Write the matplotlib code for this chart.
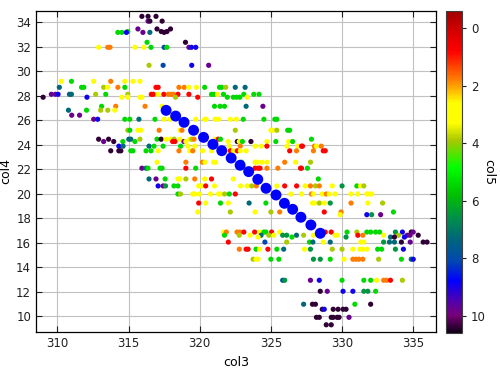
import matplotlib
matplotlib.use("Agg")
import matplotlib.pyplot as plt
from matplotlib.colors import LinearSegmentedColormap

# rows of the scatter: one col4 value per row, col3 / col5 values per point
row_col4 = [34.49, 34.10, 33.46, 33.25, 33.18, 32.37, 31.96, 30.49, 29.18, 28.69,
            28.12, 27.88, 27.14, 26.82, 26.41, 26.08, 25.18, 24.45, 24.26, 23.88,
            23.50, 22.57, 22.08, 21.20, 20.63, 19.97, 19.23, 18.50, 18.28, 16.86,
            16.60, 16.45, 16.04, 15.46, 14.64, 12.92, 12.02, 10.96, 10.55, 9.89,
            9.28]

row_col3 = [
    [315.94, 316.37, 316.93],
    [316.37, 316.50, 317.36],
    [315.66, 317.00, 317.95],
    [314.95, 317.30, 317.70],
    [314.25, 314.53, 314.85, 316.01, 316.50, 317.50],
    [316.30, 319.00],
    [312.90, 313.54, 313.70, 315.45, 316.08, 316.58, 317.50, 317.69, 319.24, 319.42, 319.72],
    [316.44, 317.43, 319.44, 320.63],
    [310.28, 310.99, 312.55, 313.75, 314.74, 315.31, 315.80],
    [310.14, 311.70, 311.86, 313.25, 313.54, 314.25, 314.74, 316.93, 317.08, 318.54,
     318.91, 319.24, 319.77, 320.35, 321.39, 321.55, 321.83, 322.50, 323.19],
    [309.58, 309.86, 310.05, 310.85, 310.99, 312.69, 313.40, 314.95, 316.60, 316.74,
     317.08, 317.48, 317.80, 318.00, 318.15, 318.47, 319.24, 320.83, 321.00, 321.25,
     321.67, 323.10, 323.80, 324.17],
    [309.00, 312.08, 314.53, 314.95, 315.80, 315.94, 318.30, 319.86, 321.94, 322.36,
     322.59, 322.82, 323.33],
    [313.11, 314.10, 316.16, 317.36, 321.04, 321.43, 321.74, 323.26, 324.44],
    [310.78, 312.05, 313.04, 313.54, 314.03],
    [311.01, 311.56],
    [312.55, 312.83, 314.74, 315.09, 315.73, 316.86, 317.50, 317.92, 319.72, 320.35,
     320.45, 321.09, 321.32, 322.15, 322.57, 323.06, 324.51, 325.28, 325.42],
    [314.95, 315.09, 315.66, 315.87, 317.15, 318.61, 318.75, 322.50, 325.00, 325.14,
     325.42, 326.18, 326.32],
    [312.90, 313.60, 315.02, 315.16, 315.80, 317.00, 317.29, 317.64, 317.95, 318.20,
     318.60, 319.30, 319.44, 319.60, 321.11, 321.30, 321.46, 327.85],
    [313.25, 313.96, 314.60, 315.45, 318.10, 318.26, 318.89, 319.03, 322.00, 322.64,
     322.78, 323.00, 323.60, 324.72, 325.35, 326.25, 326.53],
    [314.32, 314.62, 316.44, 316.79, 317.43, 318.66, 319.17, 319.65, 322.08, 322.85,
     323.89, 324.31, 324.72, 326.13, 326.90, 327.15, 327.22, 328.06, 328.20, 328.54],
    [313.75, 314.32, 314.46, 315.16, 315.31, 316.23, 316.58, 317.08, 318.54, 319.30,
     319.51, 320.20, 320.83, 322.15, 322.36, 322.64, 322.85, 323.26, 326.32, 326.80,
     327.99, 328.68, 328.82],
    [317.00, 319.03, 320.20, 320.37, 320.97, 321.11, 322.95, 323.89, 324.03, 324.38,
     324.72, 325.97, 326.74, 327.78],
    [315.94, 316.23, 316.37, 317.22, 317.36, 319.03, 319.72, 323.89, 324.10, 324.24,
     324.72, 325.49, 327.08, 327.15, 327.57],
    [316.44, 316.93, 317.57, 318.47, 318.61, 319.03, 319.65, 320.35, 320.83, 322.36, 328.33],
    [317.08, 317.43, 317.60, 318.19, 318.47, 319.93, 320.14, 320.42, 321.04, 322.87,
     323.33, 323.66, 323.98, 325.42, 325.97, 326.81, 327.40, 327.78, 328.13, 328.40,
     329.31, 330.00, 331.04, 331.30, 331.53],
    [318.47, 318.65, 319.51, 319.65, 320.00, 320.76, 321.32, 321.46, 321.75, 322.08,
     322.50, 326.41, 327.15, 327.85, 327.99, 328.61, 328.89, 329.10, 329.51, 330.63,
     331.11, 331.74, 331.94, 332.08],
    [319.93, 320.42, 321.46, 322.01, 323.47, 324.65, 327.92, 328.06, 328.40, 328.75,
     329.17, 330.63, 331.81, 332.85],
    [319.86, 322.15, 323.89, 325.00, 325.62, 328.75, 329.93, 333.61],
    [329.86, 331.74, 332.08, 332.71],
    [321.67, 321.87, 322.62, 322.82, 323.10, 323.86, 324.20, 324.51, 324.65, 325.05,
     325.62, 328.82, 329.24, 330.35, 331.04, 331.74, 332.01, 332.36, 332.64, 333.75,
     334.24, 334.86, 335.00],
    [321.74, 322.78, 323.54, 324.31, 324.86, 325.21, 325.83, 326.11, 326.80, 327.30,
     327.99, 329.51, 329.65, 331.11, 331.46, 332.92, 333.96, 334.58, 334.78, 335.35],
    [324.10, 326.48, 330.28, 333.40, 333.68, 334.38],
    [322.01, 324.58, 326.11, 327.71, 327.95, 328.68, 329.17, 331.32, 331.53, 332.92,
     333.33, 333.68, 334.17, 334.79, 335.70, 335.97],
    [322.78, 323.26, 323.40, 323.96, 324.20, 324.79, 325.42, 325.90, 327.36, 327.78,
     329.31, 330.00, 330.76, 331.25, 331.46, 331.74, 332.50, 332.78, 333.75, 334.31],
    [323.75, 323.96, 324.10, 325.00, 325.56, 327.99, 328.47, 329.17, 330.14, 330.76,
     330.97, 331.18, 331.46, 332.57, 334.17, 334.86, 335.00],
    [325.83, 325.97, 327.78, 328.40, 330.00, 331.53, 332.01, 332.43, 332.92, 333.13,
     333.40, 334.24],
    [328.47, 328.96, 330.07, 330.76, 331.53, 331.81, 332.36],
    [327.30, 327.92, 328.13, 330.90, 332.01],
    [328.61, 328.75, 329.38, 329.72, 330.07, 330.28],
    [328.20, 328.40, 329.24, 329.38, 329.65, 329.79, 330.49],
    [328.89, 329.24],
]

row_col5 = [
    [10.4, 10.4, 10.4],
    [9.8, 10.4, 10.4],
    [9.8, 10.4, 10.4],
    [5.4, 10.4, 10.4],
    [5.4, 5.4, 8.9, 9.8, 7.3, 10.4],
    [5.4, 10.4],
    [3.0, 1.8, 1.8, 3.0, 3.0, 5.4, 8.1, 5.4, 9.8, 8.9, 8.9],
    [3.9, 8.1, 8.9, 9.8],
    [3.0, 5.4, 3.0, 1.8, 3.0, 3.0, 3.0],
    [7.3, 5.4, 5.4, 3.9, 3.0, 1.8, 5.4, 0.8, 0.8, 1.8,
     1.8, 3.0, 3.0, 5.4, 5.4, 5.4, 3.9, 7.3, 7.3],
    [9.8, 9.8, 8.9, 7.3, 7.3, 3.9, 5.4, 3.9, 0.8, 0.8,
     3.0, 0.8, 1.8, 1.8, 1.8, 0.8, 0.8, 5.4, 5.4, 3.0,
     5.4, 5.4, 5.4, 5.4],
    [10.4, 8.9, 3.0, 3.0, 3.0, 3.0, 3.9, 0.8, 5.4, 5.4,
     5.4, 5.4, 3.0],
    [5.4, 1.8, 1.8, 3.0, 5.4, 5.4, 5.4, 7.3, 9.8],
    [7.3, 5.4, 3.9, 3.9, 3.0],
    [9.8, 9.8],
    [9.8, 8.9, 5.4, 5.4, 7.3, 5.4, 3.0, 3.0, 3.0, 3.0,
     3.0, 3.0, 3.0, 3.0, 3.0, 5.4, 5.4, 5.4, 5.4],
    [3.9, 5.4, 3.0, 3.0, 1.8, 3.0, 1.8, 3.9, 3.0, 3.0,
     3.9, 5.4, 5.4],
    [10.4, 10.4, 7.3, 7.3, 3.9, 5.4, 10.4, 3.0, 3.0, 3.9,
     3.0, 3.0, 3.9, 1.8, 3.0, 0.8, 5.4, 5.4],
    [9.8, 10.4, 5.4, 5.4, 0.8, 0.8, 9.8, 3.0, 3.0, 10.4,
     3.0, 5.4, 10.4, 3.0, 5.4, 3.0, 5.4],
    [8.9, 7.3, 7.3, 5.4, 5.4, 5.4, 3.0, 3.0, 3.0, 1.8,
     3.0, 3.0, 0.8, 3.0, 3.0, 0.8, 0.8, 1.8, 3.0, 1.8],
    [10.4, 10.4, 10.4, 5.4, 5.4, 5.4, 5.4, 3.0, 1.8, 3.0,
     1.8, 3.0, 3.0, 0.8, 3.0, 0.8, 3.0, 3.0, 0.8, 1.8,
     1.8, 0.8, 0.8],
    [3.0, 1.8, 1.8, 3.0, 3.0, 3.0, 5.4, 3.0, 3.0, 3.0,
     3.0, 1.8, 3.0, 3.9],
    [9.8, 7.3, 5.4, 5.4, 5.4, 0.8, 5.4, 0.8, 0.8, 0.8,
     1.8, 1.8, 0.8, 0.8, 5.4],
    [7.3, 9.8, 5.4, 3.0, 3.0, 3.9, 1.8, 3.0, 0.8, 3.0, 5.4],
    [8.9, 9.8, 6.5, 5.4, 5.4, 3.0, 3.0, 0.8, 3.0, 3.0,
     3.0, 3.9, 1.8, 3.0, 0.8, 0.8, 3.0, 1.8, 3.9, 1.8,
     3.0, 6.5, 5.4, 3.0, 3.9],
    [5.4, 3.9, 3.0, 3.0, 3.0, 3.0, 3.0, 3.0, 3.9, 5.4,
     0.8, 3.0, 3.0, 1.8, 3.0, 3.0, 1.8, 3.0, 3.0, 3.0,
     3.0, 3.0, 3.0, 3.0],
    [0.8, 3.0, 5.4, 3.0, 7.3, 5.4, 3.0, 3.0, 3.9, 3.0,
     6.5, 1.8, 3.0, 3.9],
    [3.0, 3.9, 3.0, 3.9, 1.8, 0.8, 1.8, 5.4],
    [3.0, 8.9, 6.5, 9.8],
    [3.0, 1.8, 1.8, 1.8, 0.8, 0.8, 3.0, 5.4, 5.4, 0.8,
     3.0, 0.8, 0.8, 5.4, 3.9, 5.4, 5.4, 5.4, 5.4, 6.5,
     8.9, 10.4, 9.8],
    [5.4, 3.9, 3.0, 7.3, 3.9, 3.0, 6.5, 6.5, 7.3, 3.9,
     3.0, 3.0, 3.0, 0.8, 1.8, 3.0, 3.9, 9.8, 9.8, 10.4],
    [3.0, 5.4, 6.5, 7.3, 10.4, 8.9],
    [0.8, 8.1, 3.9, 5.4, 7.3, 3.0, 7.3, 3.0, 3.0, 6.5,
     7.3, 7.3, 10.4, 9.8, 10.4, 10.4],
    [1.8, 0.8, 0.8, 5.4, 3.0, 0.8, 5.4, 7.3, 3.0, 6.5,
     3.9, 3.9, 3.0, 3.0, 3.0, 3.0, 5.4, 5.4, 6.5, 8.9],
    [3.9, 3.0, 3.0, 5.4, 5.4, 6.5, 6.5, 5.4, 3.0, 1.8,
     1.8, 1.8, 1.8, 3.9, 5.4, 7.3, 8.9],
    [8.1, 6.5, 9.8, 8.9, 5.4, 5.4, 5.4, 3.0, 1.8, 1.8,
     0.8, 3.9],
    [10.4, 9.8, 8.9, 8.9, 6.5, 6.5, 5.4],
    [7.3, 10.4, 10.4, 5.4, 10.4],
    [10.4, 8.9, 10.4, 10.4, 10.4, 10.4],
    [10.4, 10.4, 10.4, 10.4, 10.4, 10.4, 9.8],
    [10.4, 10.4],
]

# big blue dots along the diagonal
big_col3 = [317.64, 318.31, 318.90, 319.57, 320.27, 320.93, 321.55, 322.21, 322.84,
            323.44, 324.08, 324.66, 325.36, 325.95, 326.53, 327.11, 327.81, 328.47]
big_col4 = [26.81, 26.34, 25.83, 25.18, 24.60, 24.03, 23.51, 22.91, 22.32,
            21.80, 21.17, 20.44, 19.89, 19.21, 18.72, 18.07, 17.44, 16.76]
big_col5 = [8.8] * len(big_col3)

col3, col4, col5 = [], [], []
for y, xs, cs in zip(row_col4, row_col3, row_col5):
    col3 += xs
    col4 += [y] * len(xs)
    col5 += cs

vmin, vmax = -0.6, 10.6
stops = [(-0.6, "#a00000"), (0.0, "#d00000"), (0.8, "#ff0000"), (1.8, "#ff8000"),
         (2.6, "#ffff00"), (3.3, "#ffff00"), (3.9, "#a8c800"), (4.85, "#00ff00"),
         (5.8, "#00c000"), (6.6, "#009048"), (7.3, "#006878"), (8.1, "#0048b0"),
         (8.8, "#0000ff"), (9.5, "#5000b0"), (10.0, "#780078"), (10.6, "#100018")]
cmap = LinearSegmentedColormap.from_list(
    "col5map", [((v - vmin) / (vmax - vmin), c) for v, c in stops])

plt.rcParams['font.family'] = 'DejaVu Sans'
plt.rcParams['font.size'] = 8

fig = plt.figure(figsize=(5, 3.7), dpi=100)
ax = fig.add_axes([0.072, 0.102, 0.8, 0.869])
cax = fig.add_axes([0.892, 0.100, 0.032, 0.871])

ax.grid(True, color="#c0c0c0", linewidth=0.8, zorder=0)
ax.set_axisbelow(True)
sc = ax.scatter(col3, col4, c=col5, cmap=cmap, vmin=vmin, vmax=vmax,
                s=14, linewidths=0, zorder=2)
ax.scatter(big_col3, big_col4, c=big_col5, cmap=cmap, vmin=vmin, vmax=vmax,
           s=62, linewidths=0, zorder=3)

ax.set_xlim(308.5, 336.6)
ax.set_ylim(8.67, 34.95)
ax.set_xticks([310, 315, 320, 325, 330, 335])
ax.set_yticks(range(10, 35, 2))
ax.tick_params(direction="in", top=True, right=True, length=4, width=0.8,
               labelsize=8.5, colors="#202020")
for sp in ax.spines.values():
    sp.set_linewidth(0.9)
ax.set_xlabel("col3", fontsize=9, labelpad=4)
ax.set_ylabel("col4", fontsize=9, labelpad=3)

cb = fig.colorbar(sc, cax=cax)
cb.ax.invert_yaxis()
cb.set_ticks([0, 2, 4, 6, 8, 10])
cb.ax.tick_params(length=3, width=0.8, labelsize=8.5, colors="#202020")
cb.outline.set_edgecolor("#404040")
cb.set_label("col5", rotation=270, fontsize=9, va="center", ha="center")
cb.ax.yaxis.set_label_coords(2.65, 0.5)

fig.savefig("out.png", dpi=100)
